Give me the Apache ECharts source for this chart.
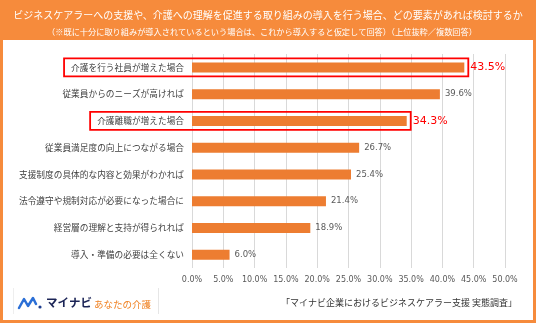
<!DOCTYPE html>
<html><head><meta charset="utf-8">
<script src="https://cdn.jsdelivr.net/npm/echarts@6/dist/echarts.min.js"></script>
<style>html,body{margin:0;padding:0;background:#fff}#c{width:536px;height:323px}</style>
</head><body><div id="c"></div>
<script>
const categories = [
  '介護を行う社員が増えた場合',
  '従業員からのニーズが高ければ',
  '介護離職が増えた場合',
  '従業員満足度の向上につながる場合',
  '支援制度の具体的な内容と効果がわかれば',
  '法令遵守や規制対応が必要になった場合に',
  '経営層の理解と支持が得られれば',
  '導入・準備の必要は全くない'
];
const values = [43.5, 39.6, 34.3, 26.7, 25.4, 21.4, 18.9, 6.0];
const highlighted = [0, 2];
const titleText = 'ビジネスケアラーへの支援や、介護への理解を促進する取り組みの導入を行う場合、どの要素があれば検討するか';
const subtitleText = '（※既に十分に取り組みが導入されているという場合は、これから導入すると仮定して回答）（上位抜粋／複数回答）';
const sourceText = '「マイナビ企業におけるビジネスケアラー支援 実態調査」';

const JP = '"Noto Sans CJK JP", sans-serif';
const NUM = '"DejaVu Sans", "Noto Sans CJK JP", sans-serif';
const ORANGE_HEAD = '#F68B3C';
const BAR = '#ED7D31';
const GRID_LEFT = 192, GRID_RIGHT = 31, GRID_TOP = 54, GRID_BOTTOM = 55;
const LABEL_MARGIN = 8, CAT_FONT = 8.7;

const chart = echarts.init(document.getElementById('c'), null, {renderer: 'canvas'});

const data = values.map((v, i) => {
  if (highlighted.includes(i)) {
    return {value: v, label: {color: '#FF0000', fontSize: 11, distance: 6}};
  }
  return v;
});

const option = {
  animation: false,
  grid: {left: GRID_LEFT, right: GRID_RIGHT, top: GRID_TOP, bottom: GRID_BOTTOM},
  xAxis: {
    type: 'value', min: 0, max: 50, interval: 5,
    axisLine: {show: false}, axisTick: {show: false},
    splitLine: {show: true, lineStyle: {color: '#D9D9D9', width: 1}},
    axisLabel: {formatter: v => v.toFixed(1) + '%', color: '#595959', fontSize: 8, fontFamily: NUM, margin: 8}
  },
  yAxis: {
    type: 'category', data: categories, inverse: true,
    axisLine: {show: false}, axisTick: {show: false},
    axisLabel: {color: '#404040', fontSize: CAT_FONT, fontFamily: JP, margin: LABEL_MARGIN}
  },
  series: [{
    type: 'bar', data: data, barWidth: 10,
    itemStyle: {color: BAR},
    label: {show: true, position: 'right', distance: 5, formatter: p => p.value.toFixed(1) + '%',
      color: '#595959', fontSize: 8.5, fontFamily: NUM}
  }]
};
chart.setOption(option);

// measure category label widths to size the highlight boxes
const cv = document.createElement('canvas').getContext('2d');
cv.font = CAT_FONT + 'px "Noto Sans CJK JP"';

const graphics = [
  {type: 'rect', shape: {x: 0, y: 0, width: 536, height: 40}, style: {fill: ORANGE_HEAD}, z: 0},
  {type: 'rect', shape: {x: 0, y: 40, width: 3, height: 283}, style: {fill: ORANGE_HEAD}},
  {type: 'rect', shape: {x: 533, y: 40, width: 3, height: 283}, style: {fill: ORANGE_HEAD}},
  {type: 'rect', shape: {x: 0, y: 320, width: 536, height: 3}, style: {fill: ORANGE_HEAD}},
  {type: 'text', x: 268, y: 15, style: {text: titleText, fill: '#fff', font: '10px ' + JP, textAlign: 'center', textVerticalAlign: 'middle'}},
  {type: 'text', x: 262, y: 32, style: {text: subtitleText, fill: '#fff', font: '8.2px ' + JP, textAlign: 'center', textVerticalAlign: 'middle'}},
  {type: 'text', x: 517, y: 303, style: {text: sourceText, fill: '#333', font: '9px ' + JP, textAlign: 'right', textVerticalAlign: 'middle'}},
  // logo block
  {type: 'line', shape: {x1: 13.5, y1: 288, x2: 13.5, y2: 314}, style: {stroke: '#EEEEEE', lineWidth: 1}},
  {type: 'line', shape: {x1: 158.5, y1: 288, x2: 158.5, y2: 314}, style: {stroke: '#E6E6E6', lineWidth: 1}},
  {type: 'polyline', shape: {points: [[19, 308], [24, 299], [28, 306], [33, 298], [36, 304]]},
    style: {stroke: '#2B6FD6', lineWidth: 2.5, fill: null, lineCap: 'round', lineJoin: 'round'}},
  {type: 'circle', shape: {cx: 40, cy: 307, r: 1.6}, style: {fill: '#1F3F8F'}},
  {type: 'text', x: 46, y: 303, style: {text: 'マイナビ', fill: '#1B2456', font: 'bold 11.5px ' + JP, textVerticalAlign: 'middle'}},
  {type: 'text', x: 94, y: 304, style: {text: 'あなたの介護', fill: '#F08020', font: '9.5px ' + JP, textVerticalAlign: 'middle'}}
];

highlighted.forEach(i => {
  const end = chart.convertToPixel({gridIndex: 0}, [values[i], i]);
  const tw = cv.measureText(categories[i]).width;
  const left = GRID_LEFT - LABEL_MARGIN - tw - 7;
  const right = end[0] + 4;
  graphics.push({type: 'rect', shape: {x: left, y: end[1] - 9, width: right - left, height: 18},
    style: {fill: null, stroke: '#FF0000', lineWidth: 1.8}, z: 10});
});

chart.setOption({graphic: graphics});
</script>
</body></html>
